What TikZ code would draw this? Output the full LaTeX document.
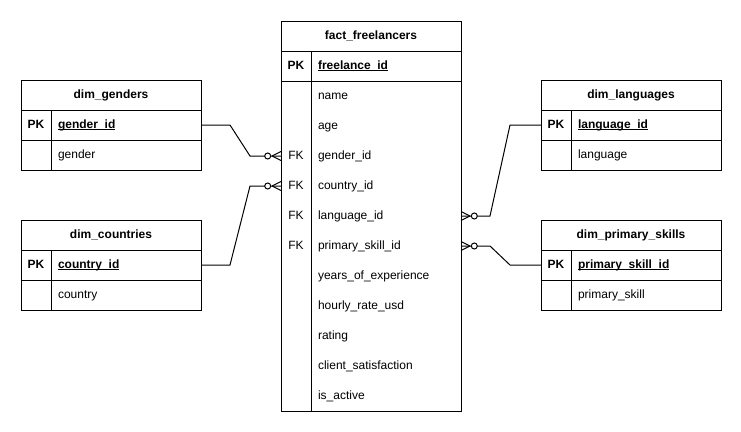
\documentclass[tikz,border=0pt]{standalone}
\usepackage{fontspec}
\setmainfont{Liberation Sans}
\usetikzlibrary{calc}

% underline drawn at a fixed depth, crossing descenders
\newcommand{\ulfield}[1]{\setbox0\hbox{#1}\rlap{\rule[-1.6pt]{\wd0}{0.8pt}}\box0}

% a dimension table: header, PK row and one plain row
% #1 name, #2 x, #3 y, #4 title, #5 key field, #6 plain field
\newcommand{\ertable}[6]{%
  \node[box, minimum height=90pt] (#1) at (#2,#3) {};
  \node[titletext] (#1-title) at ($(#1.north)+(0,15)$) {#4};
  \node[cell] (#1-pk) at ($(#1.north west)+(0,30)$) {};
  \node[cell] (#1-r1) at ($(#1.north west)+(0,60)$) {};
  \draw (#1-pk.north west) -- (#1-pk.north east)
        (#1-pk.south west) -- (#1-pk.south east);
  \draw ($(#1-pk.north west)+(30,0)$) -- ($(#1.south west)+(30,0)$);
  \node[pkkey] (#1-pkkey) at ($(#1-pk.west)+(15,0)$) {PK};
  \node[pkfield] (#1-pkname) at ($(#1-pk.west)+(37,0)$) {\ulfield{#5}};
  \node[fieldtext] (#1-r1name) at ($(#1-r1.west)+(37,0)$) {#6};
}

\begin{document}
\begin{tikzpicture}[x=1pt, y=-1pt, line width=1pt, outer sep=0pt,
  box/.style={draw, rectangle, anchor=north west, minimum width=180pt, inner sep=0pt},
  cell/.style={rectangle, anchor=north west, minimum width=180pt, minimum height=30pt, inner sep=0pt},
  basefont/.style={font=\fontsize{12}{14}\selectfont, inner sep=0pt, text height=8.6pt, text depth=2.6pt},
  titletext/.style={basefont, font=\bfseries\fontsize{12}{14}\selectfont},
  keytext/.style={basefont, anchor=center},
  pkkey/.style={keytext, font=\bfseries\fontsize{12}{14}\selectfont},
  fieldtext/.style={basefont, anchor=west},
  pkfield/.style={fieldtext, font=\bfseries\fontsize{12}{14}\selectfont},
  zeromany/.pic={
    \draw (-9,0) -- (0,-4.5) (-9,0) -- (0,4.5);
    \draw[fill=white] (-13.3,0) circle[radius=3pt];
  }
]
\useasboundingbox (0,0) rectangle (741,431);

% dimension tables
\ertable{genders}{21}{80}{dim\_genders}{gender\_id}{gender}
\ertable{countries}{21}{220}{dim\_countries}{country\_id}{country}
\ertable{languages}{541}{80}{dim\_languages}{language\_id}{language}
\ertable{skills}{541}{220}{dim\_primary\_skills}{primary\_skill\_id}{primary\_skill}

% fact table
\node[box, minimum height=390pt] (fact) at (281,21) {};
\node[titletext] (fact-title) at ($(fact.north)+(0,15)$) {fact\_freelancers};
\node[cell] (fact-pk) at ($(fact.north west)+(0,30)$) {};
\draw (fact-pk.north west) -- (fact-pk.north east)
      (fact-pk.south west) -- (fact-pk.south east);
\draw ($(fact-pk.north west)+(30,0)$) -- ($(fact.south west)+(30,0)$);
\node[pkkey] (fact-pkkey) at ($(fact-pk.west)+(15,0)$) {PK};
\node[pkfield] (fact-pkname) at ($(fact-pk.west)+(37,0)$) {\ulfield{freelance\_id}};
\foreach \k/\f/\n [count=\i] in {
    {}/name/name, {}/age/age, FK/gender\_id/gender, FK/country\_id/country,
    FK/language\_id/language, FK/primary\_skill\_id/skill,
    {}/years\_of\_experience/years, {}/hourly\_rate\_usd/rate,
    {}/rating/rating, {}/client\_satisfaction/satisfaction, {}/is\_active/active} {
  \node[cell] (fact-\n) at ($(fact.north west)+(0,30+30*\i)$) {};
  \node[keytext] (fact-\n-key) at ($(fact-\n.west)+(15,0)$) {\k};
  \node[fieldtext] (fact-\n-name) at ($(fact-\n.west)+(37,0)$) {\f};
}

% relationships
\draw (genders-pk.east) -- ++(29,0) -- ($(fact-gender.west)+(-31,0)$) -- (fact-gender.west);
\path (fact-gender.west) pic{zeromany};
\draw (countries-pk.east) -- ++(29,0) -- ($(fact-country.west)+(-31,0)$) -- (fact-country.west);
\path (fact-country.west) pic{zeromany};
\draw (fact-language.east) -- ++(29,0) -- ($(languages-pk.west)+(-31,0)$) -- (languages-pk.west);
\path (fact-language.east) pic[xscale=-1]{zeromany};
\draw (fact-skill.east) -- ++(29,0) -- ($(skills-pk.west)+(-31,0)$) -- (skills-pk.west);
\path (fact-skill.east) pic[xscale=-1]{zeromany};
\end{tikzpicture}
\end{document}
